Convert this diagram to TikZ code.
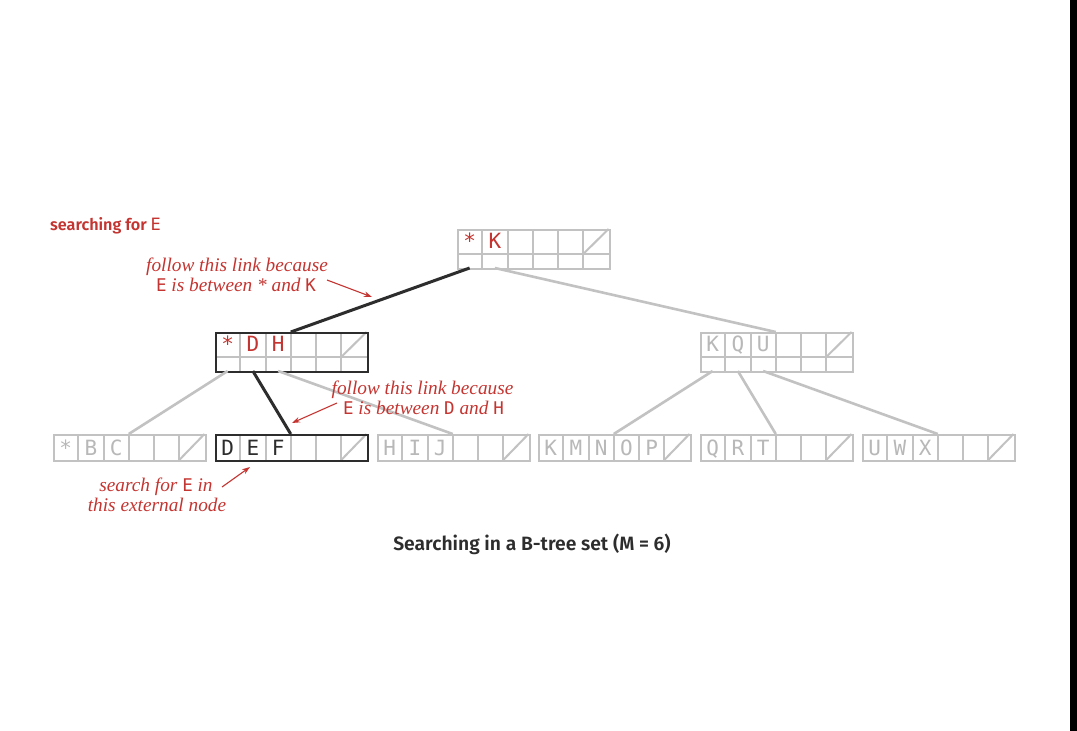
\documentclass[tikz,border=0pt]{standalone}
\usepackage{fontspec}
\newfontfamily\mono{DejaVu Sans Mono}
\newfontfamily\capfont{Fira Sans SemiBold}
\newfontfamily\notefont{Liberation Serif}
\usetikzlibrary{arrows.meta,calc}
\definecolor{bred}{RGB}{196,52,48}
\definecolor{bgray}{RGB}{194,194,194}
\definecolor{lgray}{RGB}{184,184,184}
\definecolor{dark}{RGB}{45,45,45}
\newcommand\mk[1]{{\mono\upshape\fontsize{17.5}{17}\selectfont #1}}
\tikzset{
  cellline/.style={draw=bgray, line width=2pt},
  glink/.style={draw=bgray, line width=2.6pt},
  dlink/.style={draw=dark, line width=3pt},
  pagebox/.style={rectangle, inner sep=0pt, minimum width=151.5pt, line width=2pt, anchor=north west},
  cellchar/.style={inner sep=0pt, anchor=base, font=\mono\fontsize{21}{21}\selectfont},
  notetext/.style={inner sep=0pt, anchor=base, text=bred, font=\notefont\itshape\fontsize{19.3}{20}\selectfont},
  ptr/.style={draw=bred, line width=1.1pt, -{Stealth[length=8pt,width=5.5pt]}},
}
% name, x, y, height, top-row height, border colour, letter colour, letters, baseline offset
\newcommand\bpage[9]{%
  \foreach \i in {1,...,5} \draw[cellline] (#2+\i*25.25,#3) -- (#2+\i*25.25,#3+#4);
  \ifnum#4>#5 \draw[cellline] (#2,#3+#5) -- (#2+151.5,#3+#5);\fi
  \draw[cellline] (#2+126.25,#3+#5) -- (#2+151.5,#3);
  \node[pagebox, draw=#6, minimum height=#4 pt] (#1) at (#2,#3) {};
  \foreach \l [count=\k] in {#8} \node[cellchar, text=#7] (#1-c\k) at (#2+\k*25.25-12.625,#3+#9) {\l};
  \foreach \k in {1,...,6} \coordinate (#1-b\k) at (#2+\k*25.25-12.625,#3+#4);
  \coordinate (#1-t) at (#2+75.75,#3);
}
\begin{document}
\begin{tikzpicture}[x=1pt,y=-1pt]
\fill[white] (0,0) rectangle (1077,731);
\useasboundingbox (0,0) rectangle (1077,731);
\fill[black] (1070,0) rectangle (1077,731);

% pages
\bpage{root}{457}{229}{39}{25}{bgray}{bred}{*,K}{19.8}
\bpage{ml}{215}{332}{39}{25}{dark}{bred}{*,D,H}{19.8}
\bpage{mr}{700}{332}{39}{25}{bgray}{lgray}{K,Q,U}{19.8}
\bpage{l1}{53}{434}{26}{26}{bgray}{lgray}{*,B,C}{21.7}
\bpage{l2}{215}{434}{26}{26}{dark}{dark}{D,E,F}{21.7}
\bpage{l3}{377}{434}{26}{26}{bgray}{lgray}{H,I,J}{21.7}
\bpage{l4}{538}{434}{26}{26}{bgray}{lgray}{K,M,N,O,P}{21.7}
\bpage{l5}{700}{434}{26}{26}{bgray}{lgray}{Q,R,T}{21.7}
\bpage{l6}{862}{434}{26}{26}{bgray}{lgray}{U,W,X}{21.7}

% links
\draw[dlink] (root-b1) -- (ml-t);
\draw[glink] (root-b2) -- (mr-t);
\draw[glink] (ml-b1) -- (l1-t);
\draw[dlink] (ml-b2) -- (l2-t);
\draw[glink] (ml-b3) -- (l3-t);
\draw[glink] (mr-b1) -- (l4-t);
\draw[glink] (mr-b2) -- (l5-t);
\draw[glink] (mr-b3) -- (l6-t);

% annotations
\node[anchor=base west, inner sep=0pt, text=bred, font=\capfont\fontsize{16.2}{16}\selectfont] (title) at (50,230) {searching for {\mono\fontsize{17}{17}\selectfont E}};

\node[notetext] (n1a) at (237,271.5) {follow this link because};
\node[notetext] (n1b) at (236,291) {\mk{E} is between * and \mk{K}};
\coordinate (p1s) at (327,280);
\coordinate (p1e) at (372,297);
\draw[ptr] (p1s) -- (p1e);

\node[notetext] (n2a) at (422.5,394.5) {follow this link because};
\node[notetext] (n2b) at (423.5,414) {\mk{E} is between \mk{D} and \mk{H}};
\coordinate (p2s) at (337,403);
\coordinate (p2e) at (292,423);
\draw[ptr] (p2s) -- (p2e);

\node[notetext] (n3a) at (156,491) {search for \mk{E} in};
\node[notetext] (n3b) at (157,511) {this external node};
\coordinate (p3s) at (222,487);
\coordinate (p3e) at (250,467);
\draw[ptr] (p3s) -- (p3e);

\node[anchor=base, inner sep=0pt, text=dark, font=\capfont\fontsize{19.3}{19}\selectfont] (caption) at (532,550) {Searching in a B-tree set (M = 6)};
\end{tikzpicture}
\end{document}
